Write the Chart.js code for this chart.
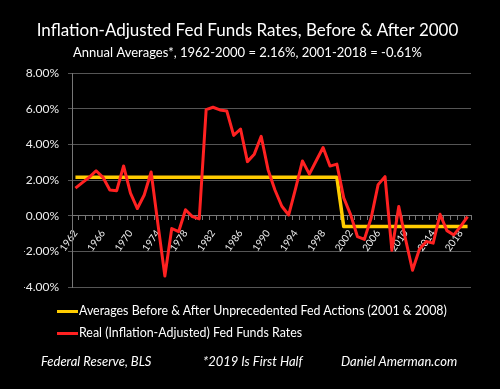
<!DOCTYPE html>
<html>
<head>
<meta charset="utf-8">
<script src="https://cdn.jsdelivr.net/npm/chart.js@4.4.0/dist/chart.umd.min.js"></script>
<style>
    html, body { margin: 0; padding: 0; background: #000; }
    .contenedor { position: relative; width: 500px; height: 389px; background: #000; overflow: hidden; }
    #grafico { position: absolute; left: 0; top: 0; }
    .leyenda { position: absolute; left: 57px; height: 16px; line-height: 16px; font: 12.4px Lato, sans-serif; color: #fff; white-space: nowrap; }
    .leyenda span { display: inline-block; width: 21px; height: 3px; vertical-align: middle; margin-right: 1px; }
    .pie { position: absolute; top: 353px; font: italic 13px Lato, sans-serif; color: #fff; white-space: nowrap; }
</style>
</head>
<body>
<div class="contenedor">
    <canvas id="grafico" width="500" height="389"></canvas>
    <div class="leyenda" id="leyenda1" style="top:303px"></div>
    <div class="leyenda" id="leyenda2" style="top:325px"></div>
    <div class="pie" style="left:41px">Federal Reserve, BLS</div>
    <div class="pie" style="left:203px">*2019 Is First Half</div>
    <div class="pie" style="left:341px">Daniel Amerman.com</div>
</div>
<script>
const years = [
    '1962', '1963', '1964', '1965', '1966', '1967', '1968', '1969', '1970', '1971',
    '1972', '1973', '1974', '1975', '1976', '1977', '1978', '1979', '1980', '1981',
    '1982', '1983', '1984', '1985', '1986', '1987', '1988', '1989', '1990', '1991',
    '1992', '1993', '1994', '1995', '1996', '1997', '1998', '1999', '2000', '2001',
    '2002', '2003', '2004', '2005', '2006', '2007', '2008', '2009', '2010', '2011',
    '2012', '2013', '2014', '2015', '2016', '2017', '2018', '2019'
];

// real (inflation-adjusted) fed funds rate, %
const realRates = [
    1.54, 1.85, 2.15, 2.52, 2.15, 1.44, 1.40, 2.79, 1.26, 0.40,
    1.16, 2.45, -0.50, -3.38, -0.72, -0.90, 0.33, -0.05, -0.18, 5.95,
    6.08, 5.93, 5.87, 4.50, 4.86, 3.03, 3.45, 4.45, 2.58, 1.44,
    0.53, 0.04, 1.51, 3.07, 2.33, 3.08, 3.82, 2.78, 2.89, 1.00,
    0.06, -1.18, -1.33, -0.10, 1.74, 2.19, -1.94, 0.51, -1.35, -3.06,
    -1.88, -1.45, -1.54, 0.08, -0.84, -1.08, -0.60, -0.05
];

// period averages, 1962-2000 and 2001-2019
const averages = [
    2.16, 2.16, 2.16, 2.16, 2.16, 2.16, 2.16, 2.16, 2.16, 2.16,
    2.16, 2.16, 2.16, 2.16, 2.16, 2.16, 2.16, 2.16, 2.16, 2.16,
    2.16, 2.16, 2.16, 2.16, 2.16, 2.16, 2.16, 2.16, 2.16, 2.16,
    2.16, 2.16, 2.16, 2.16, 2.16, 2.16, 2.16, 2.16, 2.16, -0.61,
    -0.61, -0.61, -0.61, -0.61, -0.61, -0.61, -0.61, -0.61, -0.61, -0.61,
    -0.61, -0.61, -0.61, -0.61, -0.61, -0.61, -0.61, -0.61
];

const yTicks = [-4, -2, 0, 2, 4, 6, 8];

const series = [
    { label: 'Real (Inflation-Adjusted) Fed Funds Rates', data: realRates, color: '#ff2121', width: 3, order: 0 },
    { label: 'Averages Before & After Unprecedented  Fed Actions (2001 & 2008)', data: averages, color: '#ffcc00', width: 3.5, order: 1 }
];

document.addEventListener("DOMContentLoaded", function() {
    let ctx = document.getElementById('grafico').getContext('2d');
    new Chart(ctx, {
        type: 'line',
        data: {
            labels: years,
            datasets: series.map(s => ({
                label: s.label,
                data: s.data,
                borderColor: s.color,
                backgroundColor: s.color,
                borderWidth: s.width,
                borderJoinStyle: 'round',
                pointRadius: 0,
                tension: 0,
                order: s.order
            }))
        },
        options: {
            responsive: false,
            animation: false,
            layout: { padding: { left: 24, right: 29, top: 0, bottom: 102 } },
            plugins: {
                legend: { display: false },
                tooltip: { enabled: false },
                title: {
                    display: true,
                    text: 'Inflation-Adjusted Fed Funds Rates, Before & After 2000',
                    color: '#fff',
                    font: { family: 'Lato', size: 17, weight: 'normal' },
                    padding: { top: 20, bottom: 4 }
                },
                subtitle: {
                    display: true,
                    text: 'Annual Averages*, 1962-2000 = 2.16%, 2001-2018 = -0.61%',
                    color: '#fff',
                    font: { family: 'Lato', size: 13 },
                    padding: { top: 1, bottom: 12 }
                }
            },
            scales: {
                x: {
                    offset: true,
                    position: { y: 0 },
                    afterFit: scale => { scale.height = 0; },
                    grid: { drawOnChartArea: false, offset: true, color: '#777', tickLength: 4 },
                    border: { color: '#777' },
                    ticks: {
                        autoSkip: false,
                        minRotation: 55,
                        maxRotation: 55,
                        padding: 8,
                        color: '#eee',
                        font: { family: 'Lato', size: 10 },
                        callback: function(value, index) {
                            return index % 4 === 0 ? this.getLabelForValue(value) : '';
                        }
                    }
                },
                y: {
                    min: yTicks[0],
                    max: yTicks[yTicks.length - 1],
                    afterFit: scale => { scale.width = 48; },
                    afterBuildTicks: scale => { scale.ticks = yTicks.map(v => ({ value: v })); },
                    grid: { color: '#555', tickLength: 4 },
                    border: { color: '#777' },
                    ticks: {
                        padding: 9,
                        color: '#eee',
                        font: { family: 'Lato', size: 12 },
                        callback: value => value.toFixed(2) + '%'
                    }
                }
            }
        }
    });

    // legend rows, yellow first as in the original
    [series[1], series[0]].forEach((s, i) => {
        const fila = document.getElementById('leyenda' + (i + 1));
        fila.innerHTML = '<span style="background:' + s.color + '"></span>' + s.label.replace(/&/g, '&amp;');
    });
});
</script>
</body>
</html>
